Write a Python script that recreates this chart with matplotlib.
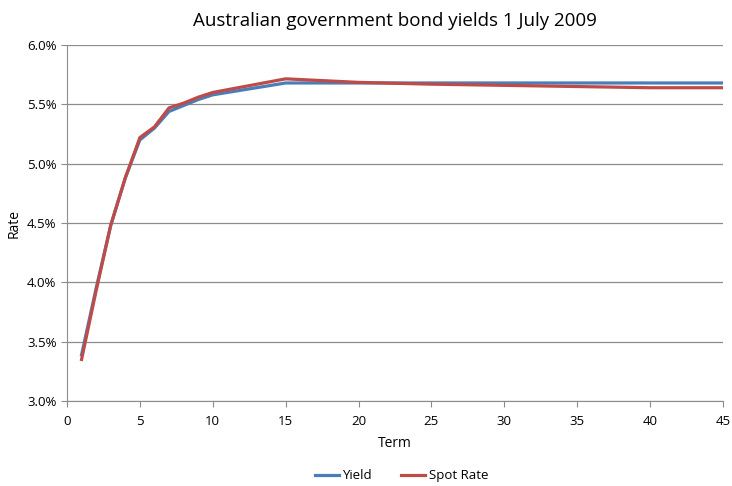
import matplotlib.pyplot as plt
from matplotlib.ticker import FuncFormatter

# yield curve data, 1 July 2009
term = [1, 2, 3, 4, 5, 6, 7, 8, 9, 10, 15, 20, 25, 30, 35, 40, 45]
yield_pct = [3.39, 3.95, 4.48, 4.88, 5.20, 5.30, 5.44, 5.49, 5.54, 5.58, 5.68, 5.68, 5.68, 5.68, 5.68, 5.68, 5.68]
spot_pct = [3.35, 3.93, 4.48, 4.88, 5.22, 5.31, 5.47, 5.51, 5.56, 5.60, 5.715, 5.685, 5.67, 5.66, 5.65, 5.64, 5.64]

plt.rcParams['font.family'] = ['Open Sans', 'DejaVu Sans']

fig = plt.figure(figsize=(7.32, 4.86), dpi=100)
ax = fig.add_axes([0.0915, 0.1749, 0.8962, 0.7325])

ax.plot(term, yield_pct, color='#4a7ebb', linewidth=2.3, label='Yield')
ax.plot(term, spot_pct, color='#be4b48', linewidth=2.3, label='Spot Rate')

ax.set_xlim(0, 45)
ax.set_ylim(3.0, 6.0)
ax.set_xticks(range(0, 46, 5))
ax.set_yticks([3.0, 3.5, 4.0, 4.5, 5.0, 5.5, 6.0])
ax.yaxis.set_major_formatter(FuncFormatter(lambda v, p: '%.1f%%' % v))
ax.grid(axis='y', color='#8c8c8c', linewidth=0.9)
ax.set_axisbelow(True)
for s in ['top', 'right']:
    ax.spines[s].set_visible(False)
for s in ['left', 'bottom']:
    ax.spines[s].set_color('#8c8c8c')
ax.tick_params(colors='#8c8c8c', labelcolor='black', labelsize=9.5, length=4, direction='out')
ax.tick_params(axis='x', pad=6)

ax.set_xlabel('Term', fontsize=10, labelpad=6)
ax.set_ylabel('Rate', fontsize=10)
ax.set_title('Australian government bond yields 1 July 2009', fontsize=13.5, pad=14)

ax.legend(loc='upper center', bbox_to_anchor=(0.51, -0.158), ncol=2, frameon=False,
          fontsize=9.5, handlelength=1.8, handletextpad=0.3, columnspacing=2.2)

fig.savefig('out.png', dpi=100)
